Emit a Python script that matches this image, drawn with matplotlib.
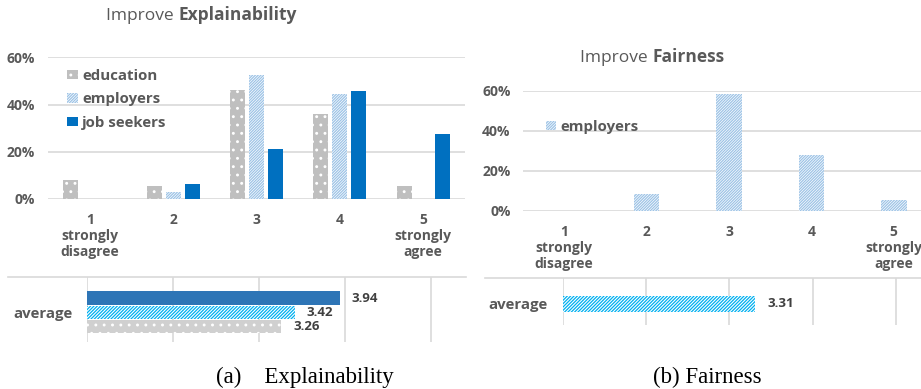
import numpy as np
import matplotlib
matplotlib.use('Agg')
import matplotlib.pyplot as plt
from matplotlib.lines import Line2D

# Survey answers (share of respondents per Likert level)
levels = ['1\nstrongly\ndisagree', '2', '3', '4', '5\nstrongly\nagree']
expl_education = [0.08, 0.055, 0.46, 0.36, 0.055]
expl_employers = [0.0, 0.03, 0.527, 0.446, 0.0]
expl_jobseekers = [0.0, 0.065, 0.212, 0.457, 0.275]
fair_employers = [0.0, 0.082, 0.587, 0.278, 0.054]

# Averages for the bottom strips
expl_avg_groups = ['education', 'employers', 'job seekers']
expl_avg = [3.26, 3.42, 3.94]
fair_avg = [3.31]

pct_ticks = [0, 0.2, 0.4, 0.6]
pct_labels = ['0%', '20%', '40%', '60%']

W, H = 921, 389
GRAY = '#595959'
GRID = '#d9d9d9'
FONT = 'Open Sans'

plt.rcParams['font.family'] = FONT
plt.rcParams['hatch.linewidth'] = 0.9


def px_rect(x0, y0, x1, y1):
    # pixel box (top-left origin) -> figure fraction
    return [x0 / W, 1 - y1 / H, (x1 - x0) / W, (y1 - y0) / H]


def style_axes(ax, size=10):
    for s in ax.spines.values():
        s.set_visible(False)
    ax.tick_params(length=0, labelcolor=GRAY)
    for lab in ax.get_xticklabels() + ax.get_yticklabels():
        lab.set_fontweight('bold')
        lab.set_fontsize(size)


def title(x, y, normal, bold):
    t = fig.text(x / W, 1 - y / H, normal, fontsize=12.5, color=GRAY, va='baseline')
    fig.canvas.draw()
    ext = t.get_window_extent()
    fig.text(ext.x1 / W, 1 - y / H, bold, fontsize=12.5, color=GRAY,
             fontweight='bold', va='baseline')


fig = plt.figure(figsize=(W / 100, H / 100), dpi=100)

# ---------------- (a) Explainability: distribution ----------------
ax1 = fig.add_axes(px_rect(48, 57.3, 465, 199))
x = np.arange(len(levels))
w, step = 0.18, 0.228
b_edu = ax1.bar(x - step, expl_education, w, facecolor='#bfbfbf', edgecolor='white',
                hatch='..', linewidth=0, label='education')
b_emp = ax1.bar(x, expl_employers, w, facecolor='white', edgecolor='#9dc3e6',
                hatch='/' * 12, linewidth=0, label='employers')
b_job = ax1.bar(x + step, expl_jobseekers, w, color='#0070c0', label='job seekers')
ax1.set_xlim(-0.5, 4.5)
ax1.set_ylim(0, 0.6)
ax1.set_yticks(pct_ticks, pct_labels)
ax1.set_xticks(x, levels, linespacing=1.2, va='top')
ax1.yaxis.grid(True, color=GRID, lw=1.2)
ax1.set_axisbelow(True)
style_axes(ax1)
ax1.tick_params(axis='y', pad=9.5)
ax1.tick_params(axis='x', pad=10)
ax1.legend(handles=[b_edu, b_emp, b_job], loc='upper left',
           bbox_to_anchor=(67 / W, 1 - 69 / H), bbox_transform=fig.transFigure,
           frameon=False, handlelength=0.7, handleheight=0.6, handletextpad=0.3,
           labelspacing=0.62, borderpad=0, borderaxespad=0, labelcolor=GRAY,
           prop={'family': FONT, 'weight': 'bold', 'size': 10.8})

# ---------------- (a) Explainability: averages ----------------
ax2 = fig.add_axes(px_rect(87, 277, 466, 342))
yy = np.arange(len(expl_avg))
a_edu = ax2.barh(yy[0], expl_avg[0], 0.93, facecolor='#d0d0d0', edgecolor='white',
                 hatch='..', linewidth=0)
a_emp = ax2.barh(yy[1], expl_avg[1], 0.93, facecolor='white', edgecolor='#00b0f0',
                 hatch='/' * 10, linewidth=0)
a_job = ax2.barh(yy[2], expl_avg[2], 0.93, color='#2e75b6')
for bars, v in zip([a_edu, a_emp, a_job], expl_avg):
    ax2.bar_label(bars, labels=[f'{v:.2f}'], padding=8.5, fontsize=9.5,
                  fontweight='bold', color='#404040')
ax2.set_xlim(1, 5.407)
ax2.set_ylim(-1.14, 3.5)
ax2.set_xticks([1, 2, 3, 4, 5], [])
ax2.set_yticks([1], ['average'])
ax2.xaxis.grid(True, color=GRID, lw=1.2)
ax2.set_axisbelow(True)
style_axes(ax2, 10.8)
ax2.tick_params(axis='y', pad=10.5)
fig.add_artist(Line2D([8 / W, 466 / W], [1 - 277 / H] * 2, color=GRID, lw=1.2))

# ---------------- (b) Fairness: distribution ----------------
ax3 = fig.add_axes(px_rect(523, 91, 921, 210.7))
f_emp = ax3.bar(x, fair_employers, 0.31, facecolor='white', edgecolor='#9dc3e6',
                hatch='/' * 12, linewidth=0, label='employers')
ax3.set_xlim(-0.5, 4.33)
ax3.set_ylim(0, 0.6)
ax3.set_yticks(pct_ticks, pct_labels)
ax3.set_xticks(x, levels, linespacing=1.2, va='top')
ax3.yaxis.grid(True, color=GRID, lw=1.2)
ax3.set_axisbelow(True)
style_axes(ax3)
ax3.tick_params(axis='y', pad=9)
ax3.tick_params(axis='x', pad=10)
ax3.legend(handles=[f_emp], loc='upper left',
           bbox_to_anchor=(546 / W, 1 - 120 / H), bbox_transform=fig.transFigure,
           frameon=False, handlelength=0.65, handleheight=0.6, handletextpad=0.3,
           borderpad=0, borderaxespad=0, labelcolor=GRAY,
           prop={'family': FONT, 'weight': 'bold', 'size': 10.8})

# ---------------- (b) Fairness: average ----------------
ax4 = fig.add_axes(px_rect(562.7, 277.7, 921, 325))
c_emp = ax4.barh([0], fair_avg, 0.5, facecolor='white', edgecolor='#00b0f0',
                 hatch='/' * 10, linewidth=0)
ax4.bar_label(c_emp, labels=[f'{v:.2f}' for v in fair_avg], padding=9, fontsize=9.5,
              fontweight='bold', color='#404040')
ax4.set_xlim(1, 5.30)
ax4.set_ylim(-0.666, 0.8125)
ax4.set_xticks([1, 2, 3, 4, 5], [])
ax4.set_yticks([0], ['average'])
ax4.xaxis.grid(True, color=GRID, lw=1.2)
ax4.set_axisbelow(True)
style_axes(ax4, 10.8)
ax4.tick_params(axis='y', pad=11)
fig.add_artist(Line2D([485 / W, 921 / W], [1 - 277.7 / H] * 2, color=GRID, lw=1.2))

# titles
title(106, 20, 'Improve ', 'Explainability')
title(580, 62, 'Improve ', 'Fairness')

# captions
fig.text(216 / W, 1 - 383 / H, '(a)    Explainability', family='Liberation Serif',
         fontsize=16.5, va='baseline')
fig.text(653 / W, 1 - 383 / H, '(b) Fairness', family='Liberation Serif',
         fontsize=16.5, va='baseline')

fig.savefig('out.png', dpi=100)
